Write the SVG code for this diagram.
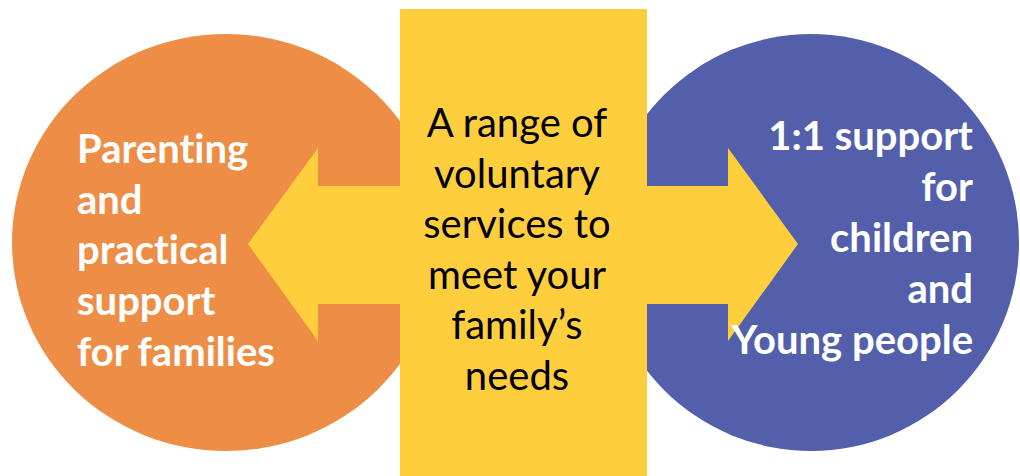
<svg xmlns="http://www.w3.org/2000/svg" width="1020" height="476" viewBox="0 0 1020 476">
<style>
text{font-family:Lato,"Open Sans","Liberation Sans",sans-serif;font-size:40px;font-variant-ligatures:none}
.lbl{font-weight:700;fill:#ffffff}
.r{text-anchor:end}
.ctr{font-weight:400;fill:#000000;text-anchor:middle}
.yel{fill:#FFCE3D}
</style>
<rect width="1020" height="476" fill="#ffffff"/>
<g id="left-node">
<ellipse cx="226" cy="242.5" rx="214" ry="208.5" fill="#EE8E46"/>
</g>
<g id="right-node">
<ellipse cx="811" cy="242.5" rx="208" ry="208.5" fill="#535FAB"/>
</g>
<g id="connectors">
<polygon class="yel" points="248,244 318,148 318,186 728,186 728,148 798,244 728,341 728,304 318,304 318,341"/>
</g>
<g id="center-node">
<rect class="yel" x="400" y="9" width="247" height="467"/>
<text class="ctr" x="517" y="137">A range of</text>
<text class="ctr" x="517" y="187.5">voluntary</text>
<text class="ctr" x="517" y="238">services to</text>
<text class="ctr" x="517" y="288.5">meet your</text>
<text class="ctr" x="517" y="339">family’s</text>
<text class="ctr" x="517" y="389.5">needs</text>
</g>
<g id="left-label">
<text class="lbl" x="77" y="163">Parenting</text>
<text class="lbl" x="77" y="213.5">and</text>
<text class="lbl" x="77" y="264">practical</text>
<text class="lbl" x="77" y="315">support</text>
<text class="lbl" x="77" y="366">for families</text>
</g>
<g id="right-label">
<text class="lbl r" x="973" y="150">1:1 support</text>
<text class="lbl r" x="973" y="201">for</text>
<text class="lbl r" x="973" y="252">children</text>
<text class="lbl r" x="973" y="303">and</text>
<text class="lbl r" x="973" y="354">Young people</text>
</g>
</svg>
